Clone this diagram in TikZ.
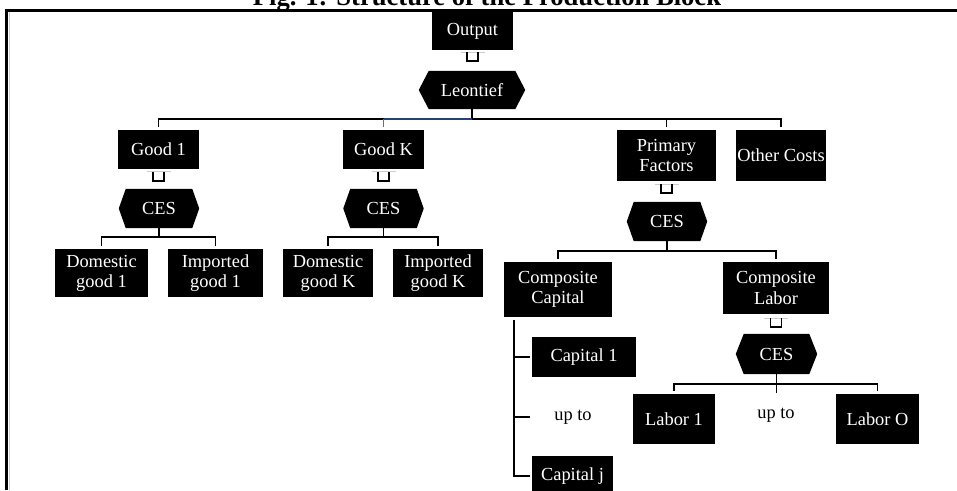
\documentclass[tikz,border=0pt]{standalone}
\usepackage{fontspec}
\setmainfont{Liberation Serif}
\usetikzlibrary{calc}
\usetikzlibrary{backgrounds}

\newcommand{\bodyfont}{\fontsize{15.7}{17.1}\selectfont}
\newcommand{\titlefont}{\fontsize{22.7}{25}\selectfont\bfseries}
\definecolor{lineblue}{RGB}{68,114,196}
\definecolor{linenavy}{RGB}{38,64,120}

\tikzset{
  box/.style 2 args={fill=black, text=white, inner sep=0pt, align=center, minimum width=#1*0.3mm, minimum height=#2*0.3mm},
  hexa/.style 2 args={text=white, inner sep=0pt, minimum width=#1*0.3mm, minimum height=#2*0.3mm},
  link/.style={black, line width=1.6pt},
}

\newcommand{\ubrack}[2]{%
  \draw[gray!40, line width=0.6pt] ($(#1.south)+(-12,#2)$) -- ++(24,0);
  \draw[link] ($(#1.south)+(-5.5,#2)$) -- ++(0,9) -- ++(11,0) -- ++(0,-9);
}
\newcommand{\fork}[4]{%
  \draw[link] (#1.south) -- ++(0,#2) coordinate (#1bus);
  \draw[link] ($(#3.north)+(0,-3)$) |- (#1bus -| #4.north) -- ($(#4.north)+(0,-3)$);
}

\begin{document}
\begin{tikzpicture}[x=0.3mm, y=-0.3mm, font=\bodyfont]
\useasboundingbox (0,0) rectangle (957,490);
\node[font=\titlefont, anchor=base] (title) at (487,5) {Fig. 1: Structure of the Production Block};
\draw[line width=3.4pt] (6.5,490) -- (6.5,9.2);
\draw[gray!40, line width=0.8pt] (9.6,12) -- (9.6,490);
\draw[line width=2.1pt] (4.8,10.5) -- (957,10.5);

\node[box={81}{38}] (out) at (472.5,31) {Output};
\node[hexa={106}{38}] (leo) at (472,90) {Leontief};
\node[box={81}{39}] (good1) at (158.5,149.5) {Good 1};
\node[box={81}{39}] (goodk) at (383.5,149.5) {Good K};
\node[box={99}{51}] (prim) at (666.5,155.5) {Primary\\Factors};
\node[box={90}{51}] (other) at (781,155.5) {Other Costs};
\node[hexa={80}{39}] (ces1) at (159,208.5) {CES};
\node[hexa={80}{39}] (cesk) at (383.5,208.5) {CES};
\node[hexa={80}{39}] (cesp) at (667,221.5) {CES};
\node[box={93}{48}] (dom1) at (101.5,273) {Domestic\\good 1};
\node[box={95}{48}] (imp1) at (215.5,273) {Imported\\good 1};
\node[box={90}{48}] (domk) at (328,273) {Domestic\\good K};
\node[box={90}{48}] (impk) at (438,273) {Imported\\good K};
\node[box={108}{55}] (ccap) at (558,289.5) {Composite\\Capital};
\node[box={106}{52}] (clab) at (776,288) {Composite\\Labor};
\node[hexa={81}{40}] (cesl) at (776.5,354) {CES};
\node[box={104}{40}] (cap1) at (584,357) {Capital 1};
\node (capup) at (573,417) {up to};
\node[box={81}{40}] (capj) at (572.5,476) {Capital j};
\node[box={82}{50}] (lab1) at (674,419) {Labor 1};
\node (labup) at (776,415) {up to};
\node[box={83}{50}] (labo) at (877.5,419) {Labor O};

\begin{scope}[on background layer]
\foreach \n/\d in {leo/10,ces1/7,cesk/7,cesp/7,cesl/8}{
  \fill (\n.west) -- ($(\n.north west)+(\d,0)$) -- ($(\n.north east)+(-\d,0)$) -- (\n.east)
    -- ($(\n.south east)+(-\d,0)$) -- ($(\n.south west)+(\d,0)$) -- cycle;
}
\end{scope}

\ubrack{out}{2}
\ubrack{good1}{2.4}
\ubrack{goodk}{2.4}
\ubrack{prim}{3}
\ubrack{clab}{4}

\fork{leo}{10}{good1}{other}
\draw[link] ($(prim.north)+(0,-3)$) -- (leobus -| prim.north);
\draw[linenavy, line width=1.6pt] (leobus) -- (leobus -| goodk.north);
\draw[lineblue, line width=1.6pt] (leobus -| goodk.north) -- ($(goodk.north)+(0,-3)$);
\fork{ces1}{8.7}{dom1}{imp1}
\fork{cesk}{8.7}{domk}{impk}
\fork{cesp}{10}{ccap}{clab}
\fork{cesl}{10}{lab1}{labo}
\draw[link] (ceslbus) -- ++(0,8.5);

\coordinate (captop) at ($(ccap.south west)+(10,3)$);
\draw[link] (captop) |- ($(capj.west)+(-2,0)$);
\draw[link] (captop |- cap1.west) -- ($(cap1.west)+(-2,0)$);
\draw[link] (captop |- capup) -- ++(16,0);
\end{tikzpicture}
\end{document}
